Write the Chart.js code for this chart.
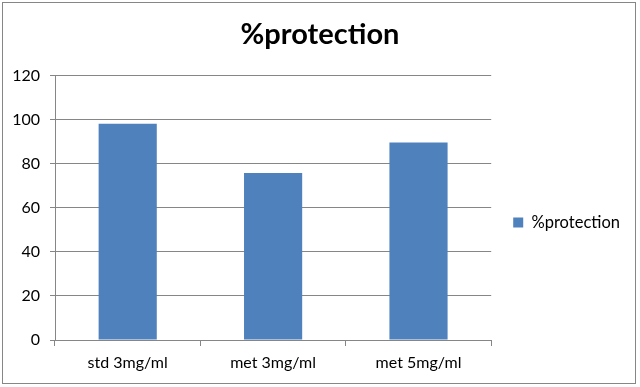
<!DOCTYPE html>
<html>
<head>
<meta charset="utf-8">
<script src="https://cdn.jsdelivr.net/npm/chart.js@4"></script>
<style>
  html, body { margin: 0; padding: 0; background: #fff; }
  #wrap { width: 640px; height: 387px; }
</style>
</head>
<body>
<div id="wrap"><canvas id="myBarChart" width="640" height="387"></canvas></div>
<script>
const categories = ["std 3mg/ml", "met 3mg/ml", "met 5mg/ml"];
const seriesName = "%protection";
const protection = [98.2, 75.9, 89.7];
const yTicks = [0, 20, 40, 60, 80, 100, 120];

const FONT = "Lato, 'Open Sans', sans-serif";
const GRID = "#868686";

// grey frame round the whole chart, like the spreadsheet export
const framePlugin = {
  id: "frame",
  afterLayout(chart) {
    // nudge legend down/right and centre the title on the full canvas
    const lg = chart.legend;
    lg.top += 29; lg.bottom += 29;
    lg.left += 12; lg.right += 12;
    chart.titleBlock.right = chart.width;
  },
  afterDraw(chart) {
    const ctx = chart.ctx;
    ctx.save();
    ctx.strokeStyle = "#868686";
    ctx.lineWidth = 1;
    ctx.strokeRect(2.5, 2.5, 633, 381);
    ctx.restore();
  }
};

var ctx = document.getElementById("myBarChart");
var myChart = new Chart(ctx, {
  type: "bar",
  data: {
    labels: categories,
    datasets: [
      {
        label: seriesName,
        data: protection,
        backgroundColor: "#4F81BD",
        borderWidth: 0,
        barPercentage: 0.4,
        categoryPercentage: 1
      }
    ]
  },
  options: {
    responsive: false,
    animation: false,
    layout: { padding: { left: 0, right: 22, top: 0, bottom: 0 } },
    plugins: {
      title: {
        display: true,
        text: seriesName,
        color: "#000",
        font: { family: FONT, size: 29, weight: "bold" },
        padding: { top: 17, bottom: 24 }
      },
      legend: {
        position: "right",
        labels: {
          color: "#000",
          font: { family: FONT, size: 16.5 },
          boxWidth: 10,
          boxHeight: 10,
          padding: 10
        }
      },
      tooltip: { enabled: false }
    },
    scales: {
      x: {
        grid: {
          offset: true,
          drawOnChartArea: false,
          color: GRID,
          tickLength: 6
        },
        border: { color: GRID },
        ticks: {
          color: "#000",
          font: { family: FONT, size: 16 },
          padding: 7,
          maxRotation: 0
        },
        afterFit(scale) { scale.height = 47; }
      },
      y: {
        min: 0,
        max: 120,
        afterBuildTicks(scale) { scale.ticks = yTicks.map(v => ({ value: v })); },
        grid: { color: GRID, tickLength: 5 },
        border: { color: GRID },
        ticks: {
          color: "#000",
          font: { family: FONT, size: 16 },
          padding: 10
        },
        afterFit(scale) { scale.width = 55; }
      }
    }
  },
  plugins: [framePlugin]
});
</script>
</body>
</html>
